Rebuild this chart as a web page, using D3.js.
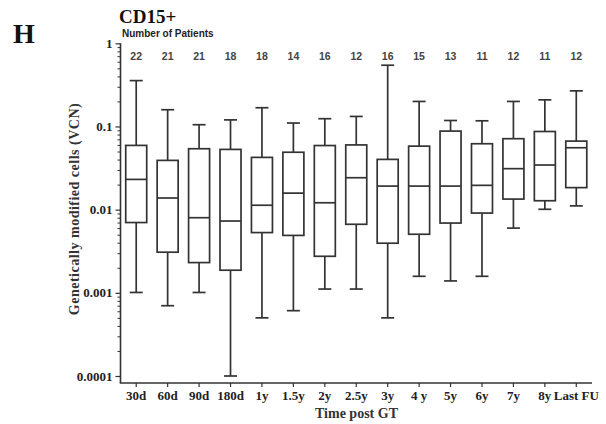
<!DOCTYPE html>
<html>
<head>
<meta charset="utf-8">
<script src="https://cdn.jsdelivr.net/npm/d3@7"></script>
<style>
  html, body { margin: 0; padding: 0; background: #fff; }
  svg { display: block; }
</style>
</head>
<body>
<svg id="chart" width="606" height="424"></svg>
<script>
// Time points after gene therapy
const categories = ["30d", "60d", "90d", "180d", "1y", "1.5y", "2y", "2.5y", "3y", "4 y", "5y", "6y", "7y", "8y", "Last FU"];
// Number of patients sampled at each time point
const patients = [22, 21, 21, 18, 18, 14, 16, 12, 16, 15, 13, 11, 12, 11, 12];
// Box plot statistics of VCN in CD15+ cells
const whiskerLow = [0.00101, 0.0007, 0.00101, 0.0001, 0.0005, 0.00061, 0.00111, 0.00111, 0.0005, 0.00158, 0.00139, 0.00158, 0.006, 0.0101, 0.0111];
const q1 = [0.0070, 0.00308, 0.00231, 0.00187, 0.0053, 0.0049, 0.00275, 0.00667, 0.00395, 0.00506, 0.0069, 0.0091, 0.0134, 0.0128, 0.0184];
const median = [0.0231, 0.0138, 0.0080, 0.0073, 0.0113, 0.0158, 0.0121, 0.0242, 0.0192, 0.0192, 0.0192, 0.0196, 0.0311, 0.0344, 0.0555];
const q3 = [0.0592, 0.0391, 0.054, 0.053, 0.0425, 0.049, 0.059, 0.060, 0.0402, 0.058, 0.088, 0.062, 0.0713, 0.087, 0.0667];
const whiskerHigh = [0.356, 0.159, 0.105, 0.12, 0.168, 0.11, 0.124, 0.132, 0.545, 0.2, 0.118, 0.117, 0.2, 0.209, 0.268];
// Y axis labels
const yTickValues = [1, 0.1, 0.01, 0.001, 0.0001];
const yTickLabels = ["1", "0.1", "0.01", "0.001", "0.0001"];

const svg = d3.select("#chart");
const ink = "#333";
const serif = "'Liberation Serif', 'Times New Roman', serif";
const sans = "'Liberation Sans', Arial, sans-serif";

const left = 120.5, right = 592, axisBottom = 383;

const x = d3.scaleBand().domain(categories).range([left, right]).paddingInner(0).paddingOuter(0);
const y = d3.scaleLog().domain([0.0001, 1]).range([376, 43.3]);

const data = categories.map((c, i) => ({
  cat: c, n: patients[i], lo: whiskerLow[i], q1: q1[i], med: median[i], q3: q3[i], hi: whiskerHigh[i]
}));

// Minor log ticks between decades
const minorTicks = [];
for (let e = -4; e < 0; e++) {
  for (let m = 2; m <= 9; m++) minorTicks.push(m * Math.pow(10, e));
}

// Y axis
const yAxisG = svg.append("g").attr("transform", `translate(${left},0)`);
yAxisG.call(d3.axisLeft(y).tickValues(minorTicks).tickSize(3).tickFormat(""))
  .call(g => g.select(".domain").remove())
  .call(g => g.selectAll("line").attr("stroke", ink).attr("stroke-width", 1));
const yMajor = svg.append("g").attr("transform", `translate(${left},0)`);
yMajor.call(d3.axisLeft(y).tickValues(yTickValues).tickSize(5).tickPadding(3)
    .tickFormat((d, i) => yTickLabels[i]))
  .call(g => g.select(".domain").remove())
  .call(g => g.selectAll("line").attr("stroke", ink).attr("stroke-width", 1.2))
  .call(g => g.selectAll("text").attr("fill", "#222").style("font-family", serif)
    .style("font-weight", "bold").style("font-size", "13px"));

// Axis lines
svg.append("line").attr("x1", left).attr("x2", left).attr("y1", y(1)).attr("y2", axisBottom)
  .attr("stroke", ink).attr("stroke-width", 1.6);

// X axis
const xAxisG = svg.append("g").attr("transform", `translate(0,${axisBottom})`);
xAxisG.call(d3.axisBottom(x).tickSize(4).tickPadding(4))
  .call(g => g.select(".domain").remove())
  .call(g => g.selectAll("line").attr("stroke", ink).attr("stroke-width", 1.2))
  .call(g => g.selectAll("text").attr("fill", "#222").style("font-family", serif)
    .style("font-weight", "bold").style("font-size", "13px"));
svg.append("line").attr("x1", left - 0.8).attr("x2", right).attr("y1", axisBottom).attr("y2", axisBottom)
  .attr("stroke", ink).attr("stroke-width", 1.6);

// Boxes
const boxW = 21, capW = 13;
const g = svg.append("g").selectAll("g").data(data).join("g")
  .attr("transform", d => `translate(${x(d.cat) + x.bandwidth() / 2},0)`);
const stroke = s => s.attr("stroke", ink).attr("stroke-width", 1.7).attr("fill", "none");

g.append("line").attr("x1", 0).attr("x2", 0).attr("y1", d => y(d.hi)).attr("y2", d => y(d.q3)).call(stroke);
g.append("line").attr("x1", 0).attr("x2", 0).attr("y1", d => y(d.q1)).attr("y2", d => y(d.lo)).call(stroke);
g.append("line").attr("x1", -capW / 2).attr("x2", capW / 2).attr("y1", d => y(d.hi)).attr("y2", d => y(d.hi)).call(stroke);
g.append("line").attr("x1", -capW / 2).attr("x2", capW / 2).attr("y1", d => y(d.lo)).attr("y2", d => y(d.lo)).call(stroke);
g.append("rect").attr("x", -boxW / 2).attr("width", boxW)
  .attr("y", d => y(d.q3)).attr("height", d => y(d.q1) - y(d.q3)).call(stroke).attr("fill", "#fff");
g.append("line").attr("x1", -boxW / 2).attr("x2", boxW / 2).attr("y1", d => y(d.med)).attr("y2", d => y(d.med)).call(stroke);

// Patient counts
g.append("text").attr("x", 0).attr("y", 60).attr("text-anchor", "middle")
  .style("font-family", sans).style("font-weight", "bold").style("font-size", "10.5px")
  .attr("fill", "#444").text(d => d.n);

// Titles and labels
svg.append("text").attr("x", 13).attr("y", 42.5).text("H")
  .style("font-family", serif).style("font-weight", "bold").style("font-size", "28px").attr("fill", "#111");
svg.append("text").attr("x", 119).attr("y", 23.3).text("CD15+")
  .style("font-family", serif).style("font-weight", "bold").style("font-size", "19px").attr("fill", "#111");
svg.append("text").attr("x", 122).attr("y", 36.6).text("Number of Patients")
  .style("font-family", sans).style("font-weight", "bold").style("font-size", "10px").attr("fill", "#222");
svg.append("text").attr("x", 356.5).attr("y", 418).attr("text-anchor", "middle").text("Time post GT")
  .style("font-family", serif).style("font-weight", "bold").style("font-size", "14px").attr("fill", "#333");
svg.append("text").attr("transform", "translate(79,209) rotate(-90)").attr("text-anchor", "middle")
  .text("Genetically modified cells (VCN)")
  .style("font-family", serif).style("font-weight", "bold").style("font-size", "14px")
  .style("letter-spacing", "0.5px").attr("fill", "#333");
</script>
</body>
</html>
